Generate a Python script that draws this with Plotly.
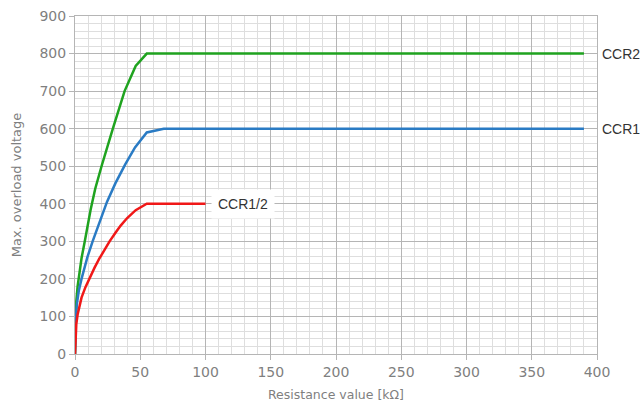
import plotly.graph_objects as go

# Data (resistance in kOhm, max overload voltage in V)
ccr2_x = [0, 0.2, 0.5, 1, 2, 3, 5, 7.5, 9.5, 12, 15.5, 20.5, 29, 38, 46.5, 55, 390]
ccr2_y = [0, 60, 100, 140, 180, 210, 255, 300, 340, 385, 440, 502, 600, 700, 767, 800, 800]

ccr1_x = [0, 0.2, 0.7, 1.5, 3, 5, 7, 9.5, 13.5, 18, 24.5, 31, 38.5, 46, 55, 68, 390]
ccr1_y = [0, 50, 100, 135, 170, 200, 228, 258, 300, 345, 405, 455, 505, 550, 590, 600, 600]

ccr12_x = [0, 0.3, 1, 2, 3.5, 5, 8, 11.5, 15, 18.5, 22, 26.5, 31, 35, 40, 46.5, 55, 100]
ccr12_y = [0, 45, 80, 105, 130, 150, 178, 205, 230, 253, 275, 300, 323, 342, 362, 383, 400, 400]

series_names = ["CCR2", "CCR1", "CCR1/2"]
colors = ["#1fa31f", "#2a7bc4", "#f01818"]

x_ticks = [0, 50, 100, 150, 200, 250, 300, 350, 400]
y_ticks = [0, 100, 200, 300, 400, 500, 600, 700, 800, 900]

fig = go.Figure()
for xs, ys, name, c in zip([ccr2_x, ccr1_x, ccr12_x], [ccr2_y, ccr1_y, ccr12_y], series_names, colors):
    fig.add_trace(go.Scatter(x=xs, y=ys, mode="lines", name=name,
                             line=dict(color=c, width=2.5), showlegend=False))

major = "#b5b5b5"
minor = "#dedede"
tickfont = dict(family="DejaVu Sans", size=14, color="#7f7f7f")

fig.update_xaxes(range=[0, 400], tickvals=x_ticks, showgrid=True, gridcolor=major, gridwidth=1,
                 minor=dict(dtick=10, showgrid=True, gridcolor=minor, gridwidth=1),
                 ticks="outside", ticklen=5, tickcolor=major, zeroline=False,
                 showline=True, linecolor=major, mirror=True,
                 tickfont=tickfont, automargin=False, ticklabeloverflow="allow",
                 title=dict(text="Resistance value [kΩ]", font=dict(family="DejaVu Sans", size=12.5, color="#7f7f7f"), standoff=17))
fig.update_yaxes(range=[0, 900], tickvals=y_ticks, showgrid=True, gridcolor=major, gridwidth=1,
                 minor=dict(dtick=20, showgrid=True, gridcolor=minor, gridwidth=1),
                 ticks="outside", ticklen=5, tickcolor=major, zeroline=False,
                 showline=True, linecolor=major, mirror=True,
                 tickfont=tickfont, automargin=False, ticklabeloverflow="allow",
                 title=dict(text="Max. overload voltage", font=dict(family="DejaVu Sans", size=13, color="#7f7f7f"), standoff=14))

lab_font = dict(family="Liberation Sans", size=14, color="#333333")
fig.add_annotation(x=1, xref="paper", y=ccr2_y[-1], yref="y", text=series_names[0], showarrow=False,
                   xanchor="left", xshift=3, font=lab_font)
fig.add_annotation(x=1, xref="paper", y=ccr1_y[-1], yref="y", text=series_names[1], showarrow=False,
                   xanchor="left", xshift=3, font=lab_font)
fig.add_annotation(x=ccr12_x[-1], xref="x", y=ccr12_y[-1], yref="y", text=series_names[2], showarrow=False,
                   xanchor="left", xshift=5, font=lab_font, bgcolor="white", borderpad=6)

fig.update_layout(width=642, height=402, margin=dict(l=75, r=45, t=16, b=48),
                  plot_bgcolor="white", paper_bgcolor="white")

fig.write_html("out.html", config={"displayModeBar": False},
               post_script="document.body.style.margin='0';document.body.style.overflow='hidden';")
